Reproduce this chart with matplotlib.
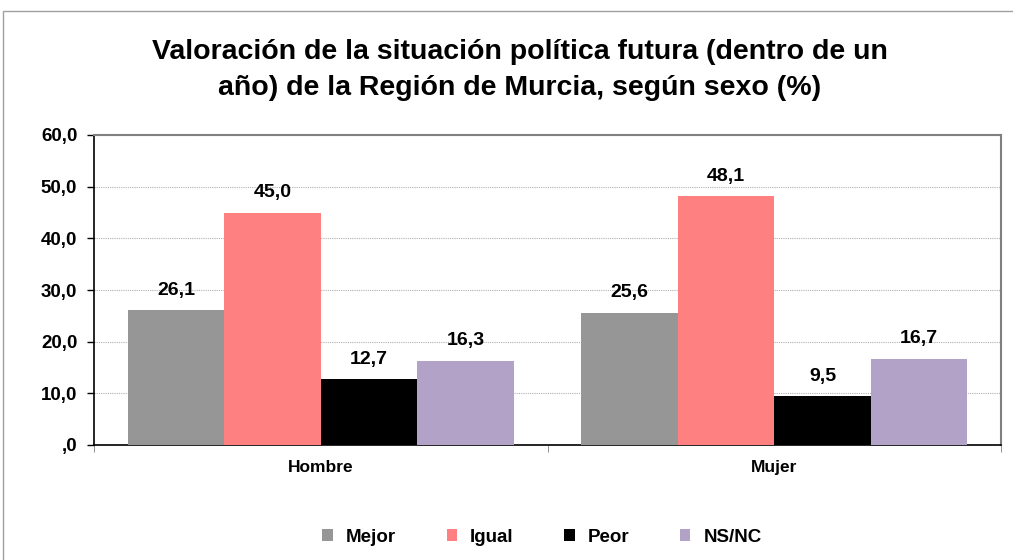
import numpy as np
from matplotlib import pyplot as plt
from matplotlib.patches import Rectangle

plt.rcParams['font.family'] = ['Liberation Sans', 'DejaVu Sans']

categories = ["Hombre", "Mujer"]
series = ["Mejor", "Igual", "Peor", "NS/NC"]
mejor = [26.1, 25.6]
igual = [45.0, 48.1]
peor = [12.7, 9.5]
nsnc = [16.3, 16.7]
colors = ["#969696", "#FF8080", "#000000", "#B3A2C7"]
title = "Valoración de la situación política futura (dentro de un\naño) de la Región de Murcia, según sexo (%)"


def fmt(v):
    s = f"{v:.1f}".replace(".", ",")
    return s[1:] if s.startswith("0") else s


fig = plt.figure(figsize=(10.13, 5.6), dpi=100)
fig.patches.append(Rectangle((3 / 1013, -0.01), 1.1, 1 - 11 / 560 + 0.01,
                             transform=fig.transFigure, fill=False,
                             edgecolor="#a0a0a0", linewidth=1.0))
ax = fig.add_axes([94 / 1013, 1 - 445 / 560, (1001 - 94) / 1013, (445 - 135) / 560])

x = np.arange(len(categories))
width = 0.2128
values = [mejor, igual, peor, nsnc]
for i, (name, vals) in enumerate(zip(series, values)):
    pos = x + (i - 1.5) * width
    ax.bar(pos, vals, width=width, color=colors[i], label=name, zorder=3)
    for p, v in zip(pos, vals):
        ax.text(p, v + 2.2, fmt(v), ha="center", va="bottom",
                fontsize=14, fontweight="bold")

ax.set_xlim(-0.5, 1.5)
ax.set_ylim(0, 60)
ax.set_yticks(np.arange(0, 61, 10))
ax.set_yticklabels([fmt(v) for v in np.arange(0, 61, 10)],
                   fontsize=13.5, fontweight="bold")
ax.set_xticks(x)
ax.set_xticklabels(categories, fontsize=12.5, fontweight="bold")
ax.tick_params(axis="x", length=0, pad=11)
ax.set_xticks([-0.5, 0.5, 1.5], minor=True)
ax.tick_params(axis="x", which="minor", length=5, color="#808080")
ax.tick_params(axis="y", length=5, width=1, pad=7)

ax.grid(axis="y", linestyle=(0, (1, 1)), color="#b0b0b0", linewidth=0.8, zorder=0)
for s in ["left", "bottom"]:
    ax.spines[s].set_color("#000000")
    ax.spines[s].set_linewidth(1.2)
for s in ["top", "right"]:
    ax.spines[s].set_color("#808080")
    ax.spines[s].set_linewidth(1.5)

fig.text(0.513, 1 - 70 / 560, title, ha="center", va="center",
         fontsize=20.5, fontweight="bold", linespacing=1.5)

fig.legend(loc="center", bbox_to_anchor=(0.535, 1 - 537 / 560), ncol=4,
           frameon=False, prop={"size": 13.5, "weight": "bold"},
           handlelength=0.55, handleheight=0.55, columnspacing=2.7,
           handletextpad=0.7)

fig.savefig("out.png", dpi=100)
